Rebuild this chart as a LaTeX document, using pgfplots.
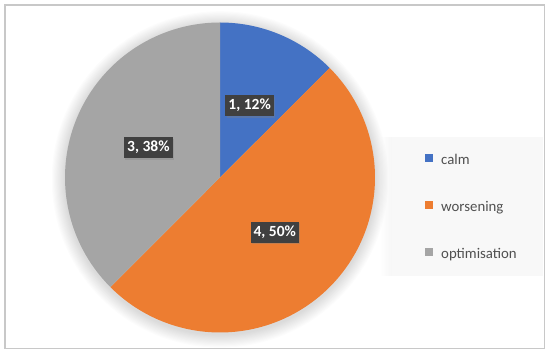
\documentclass[border=0pt]{standalone}
\usepackage{fontspec}
\setmainfont{Carlito}
\usepackage{pgfplots}
\pgfplotsset{compat=1.18}
\usetikzlibrary{shadows}
\definecolor{cBlue}{HTML}{4472C4}
\definecolor{cOrange}{HTML}{ED7D31}
\definecolor{cGray}{HTML}{A5A5A5}
\definecolor{cLabel}{HTML}{404040}
\definecolor{cText}{HTML}{505050}
\definecolor{cFrame}{HTML}{C8C8C8}
\definecolor{cLegend}{HTML}{F8F8F8}
\tikzset{pielabel/.style={fill=cLabel, text=white,
    font=\bfseries\fontsize{15.5bp}{18bp}\selectfont,
    inner xsep=3bp, inner ysep=0pt, text height=11bp, text depth=3bp, minimum height=21bp,
    drop shadow={opacity=0.35, shadow xshift=1.2bp, shadow yshift=-1.2bp}}}
% data: calm, worsening, optimisation
\def\vA{1}
\def\vB{4}
\def\vC{3}
\begin{document}
\begin{tikzpicture}
\useasboundingbox (0,0) rectangle (550bp,356bp);
\fill[white] (0,0) rectangle (550bp,356bp);
\draw[cFrame, line width=1.5bp] (5bp,7.5bp) rectangle (544.5bp,351bp);
% legend background with soft shadow on the left
\foreach \k in {1,...,8}{
  \fill[black, opacity=0.005] ({392bp-\k*1.4bp},80bp) rectangle (543bp,219bp);
}
\fill[cLegend] (392bp,80bp) rectangle (543bp,219bp);
% soft glow / shadow around pie
\foreach \k in {12,11,...,1}{
  \fill[black, opacity=0.013] (220bp,176.6bp) circle[radius={155bp+\k*1.1bp}];
}
\pgfmathsetmacro{\tot}{\vA+\vB+\vC}
\pgfmathsetmacro{\aA}{90}
\pgfmathsetmacro{\aB}{90-360*\vA/\tot}
\pgfmathsetmacro{\aC}{\aB-360*\vB/\tot}
\pgfmathsetmacro{\aD}{\aC-360*\vC/\tot}
\pgfmathsetmacro{\mA}{(\aA+\aB)/2}
\pgfmathsetmacro{\mB}{(\aB+\aC)/2}
\pgfmathsetmacro{\mC}{(\aC+\aD)/2}
\begin{axis}[
  at={(220bp,178.5bp)}, anchor=origin,
  hide axis, scale only axis,
  width=310bp, height=310bp,
  xmin=-1, xmax=1, ymin=-1, ymax=1,
  clip=false,
  legend style={
    at={(axis description cs:1.1613,0.403)}, anchor=west,
    draw=none, fill=none, inner sep=0pt, row sep=33bp,
    font=\fontsize{14.8bp}{17bp}\selectfont, text=cText,
    nodes={inner sep=0pt, text height=10bp, text depth=3bp},
  },
  legend cell align=left,
  legend image code/.code={\fill[#1] (0bp,-0.5bp) rectangle (8bp,7.5bp); \path (16bp,0bp);},
]
\addplot[draw=none, fill=cBlue, domain=\aB:\aA, samples=60] ({cos(x)},{sin(x)}) -- (axis cs:0,0) -- cycle;
\addlegendentry{calm}
\addplot[draw=none, fill=cOrange, domain=\aC:\aB, samples=120] ({cos(x)},{sin(x)}) -- (axis cs:0,0) -- cycle;
\addlegendentry{worsening}
\addplot[draw=none, fill=cGray, domain=\aD:\aC, samples=100] ({cos(x)},{sin(x)}) -- (axis cs:0,0) -- cycle;
\addlegendentry{optimisation}
\node[pielabel] at (axis cs:{0.5*cos(\mA)},{0.5*sin(\mA)}) {1, 12\%};
\node[pielabel] at (axis cs:{0.5*cos(\mB)},{0.5*sin(\mB)}) {4, 50\%};
\node[pielabel] at (axis cs:{0.5*cos(\mC)},{0.5*sin(\mC)}) {3, 38\%};
\end{axis}
\end{tikzpicture}
\end{document}
